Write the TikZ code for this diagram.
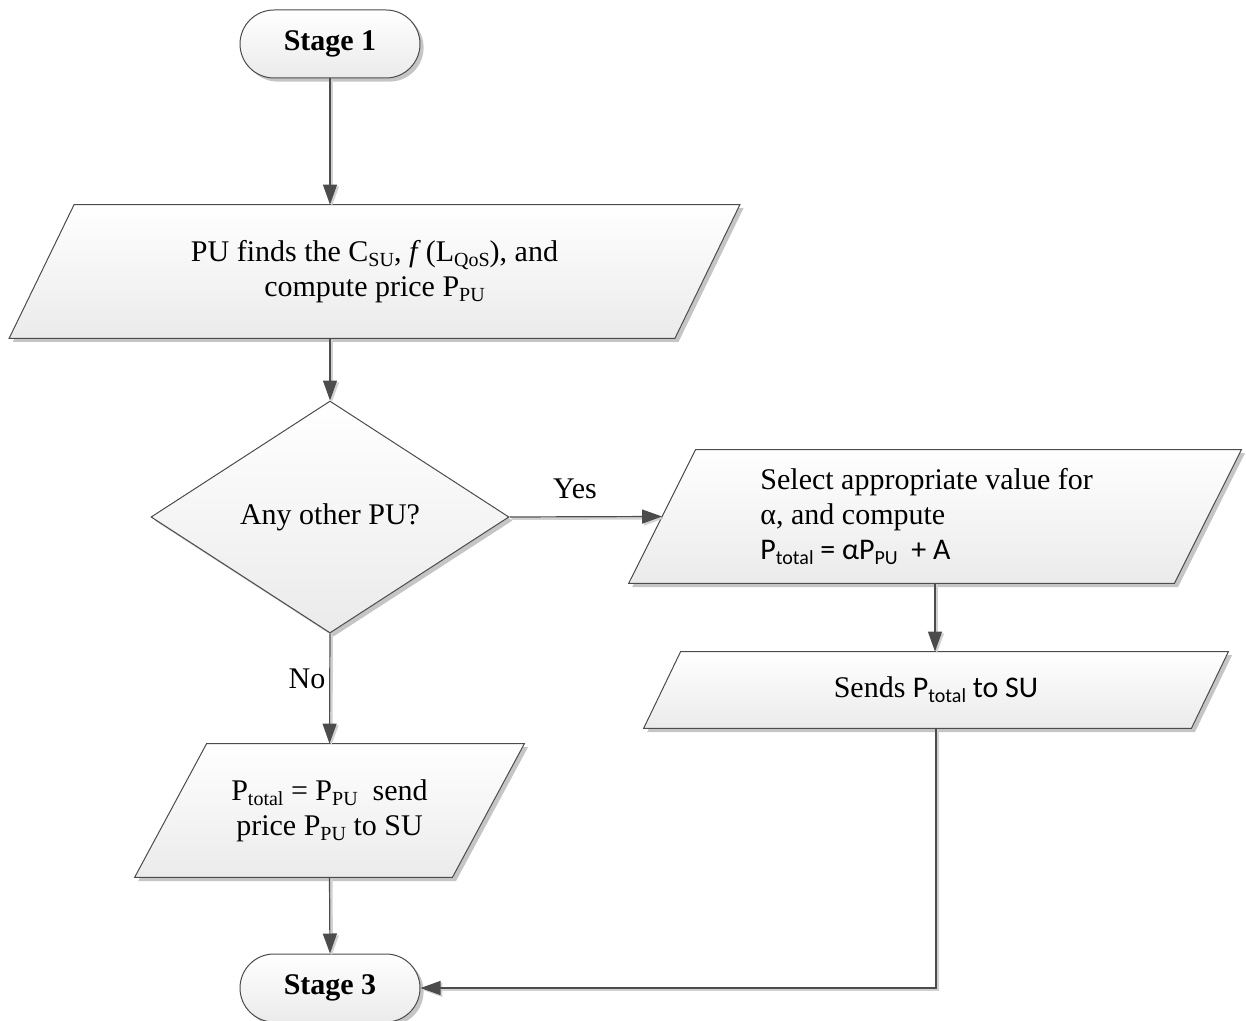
\documentclass[tikz,border=0pt]{standalone}
\usepackage{fontspec}
\setmainfont{Liberation Serif}
\newfontfamily\calfont{Carlito}
\usetikzlibrary{shapes.geometric,arrows.meta,shadows,backgrounds}
% lowered, smaller subscript text
\newcommand{\sbs}[1]{\raisebox{-0.35ex}{\fontsize{10}{12}\selectfont #1}}
% data box: a named body node (mid-left to mid-right, full height) with a
% slanted parallelogram drawn behind it
% #1 name, #2 x, #3 y, #4 body width, #5 height, #6 slant, #7 text
\newcommand{\ioshape}[7]{%
  \node[minimum width=#4, minimum height=#5, inner sep=0pt, align=center] (#1) at (#2,#3) {#7};
  \begin{scope}[on background layer]
    \draw[shapebase] ([xshift=#6/2]#1.north west) -- ([xshift=#6/2]#1.north east)
      -- ([xshift=-#6/2]#1.south east) -- ([xshift=-#6/2]#1.south west) -- cycle;
  \end{scope}}

\begin{document}
\begin{tikzpicture}[x=0.5pt,y=-0.5pt,
  every node/.style={font=\fontsize{15}{17.5}\selectfont, text=black},
  shapebase/.style={draw=black!70, line width=0.5pt, top color=white, bottom color=black!8,
    drop shadow={shadow xshift=1.8pt, shadow yshift=-1.8pt, fill=black!45, opacity=0.5}},
  terminal/.style={shapebase, rectangle, rounded corners=17pt, minimum width=90pt,
    minimum height=34pt, inner sep=0pt, font=\fontsize{15}{17.5}\selectfont\bfseries},
  decision/.style={shapebase, diamond, minimum width=179pt, minimum height=116pt, inner sep=0pt},
  conn/.style={draw=black!70, line width=0.6pt, -{Triangle[length=10pt,width=7pt]},
    preaction={draw=black!18, line width=1.2pt, transform canvas={shift={(0.9pt,-0.9pt)}}}}
]
\useasboundingbox (0,0) rectangle (1246,1021);

% left column
\node[terminal] (s1) at (330,44) {Stage 1};
\ioshape{b1}{374.5}{271.5}{332.5pt}{66.5pt}{32.5pt}
  {PU finds the C\sbs{SU}, \textit{f}\,(L\sbs{QoS}), and\\compute price P\sbs{PU}}
\node[decision] (dec) at (330,517) {Any other PU?};
\ioshape{b2}{329.5}{810.5}{158.5pt}{66.5pt}{36pt}
  {P\sbs{total} = P\sbs{PU}\ \ send\\price P\sbs{PU} to SU}
\node[terminal] (s3) at (330,988) {Stage 3};

% right column
\ioshape{sel}{935}{516.5}{272.5pt}{66.5pt}{33.5pt}{}
\node[anchor=west, align=left, inner sep=0pt] (seltext) at (760,517)
  {Select appropriate value for\\α, and compute\\{\calfont P\sbs{total} = αP\sbs{PU}\ \ + A}};
\ioshape{snd}{936}{690}{273.5pt}{38pt}{18.5pt}
  {Sends {\calfont P\sbs{total} to SU}}

% branch labels
\node (yes) at (575,489) {Yes};
\node (no) at (307,679) {No};

% connectors
\draw[conn] (s1.south) -- (s1.south |- b1.north);
\draw[conn] (dec.north |- b1.south) -- (dec.north);
\draw[conn] (dec.east) -- (sel.west);
\draw[conn] (dec.south) -- (b2.north);
\draw[conn] (sel.south) -- (sel.south |- snd.north);
\draw[conn] (b2.south) -- (s3.north);
\draw[conn] (snd.south) |- (s3.east);
\end{tikzpicture}
\end{document}
